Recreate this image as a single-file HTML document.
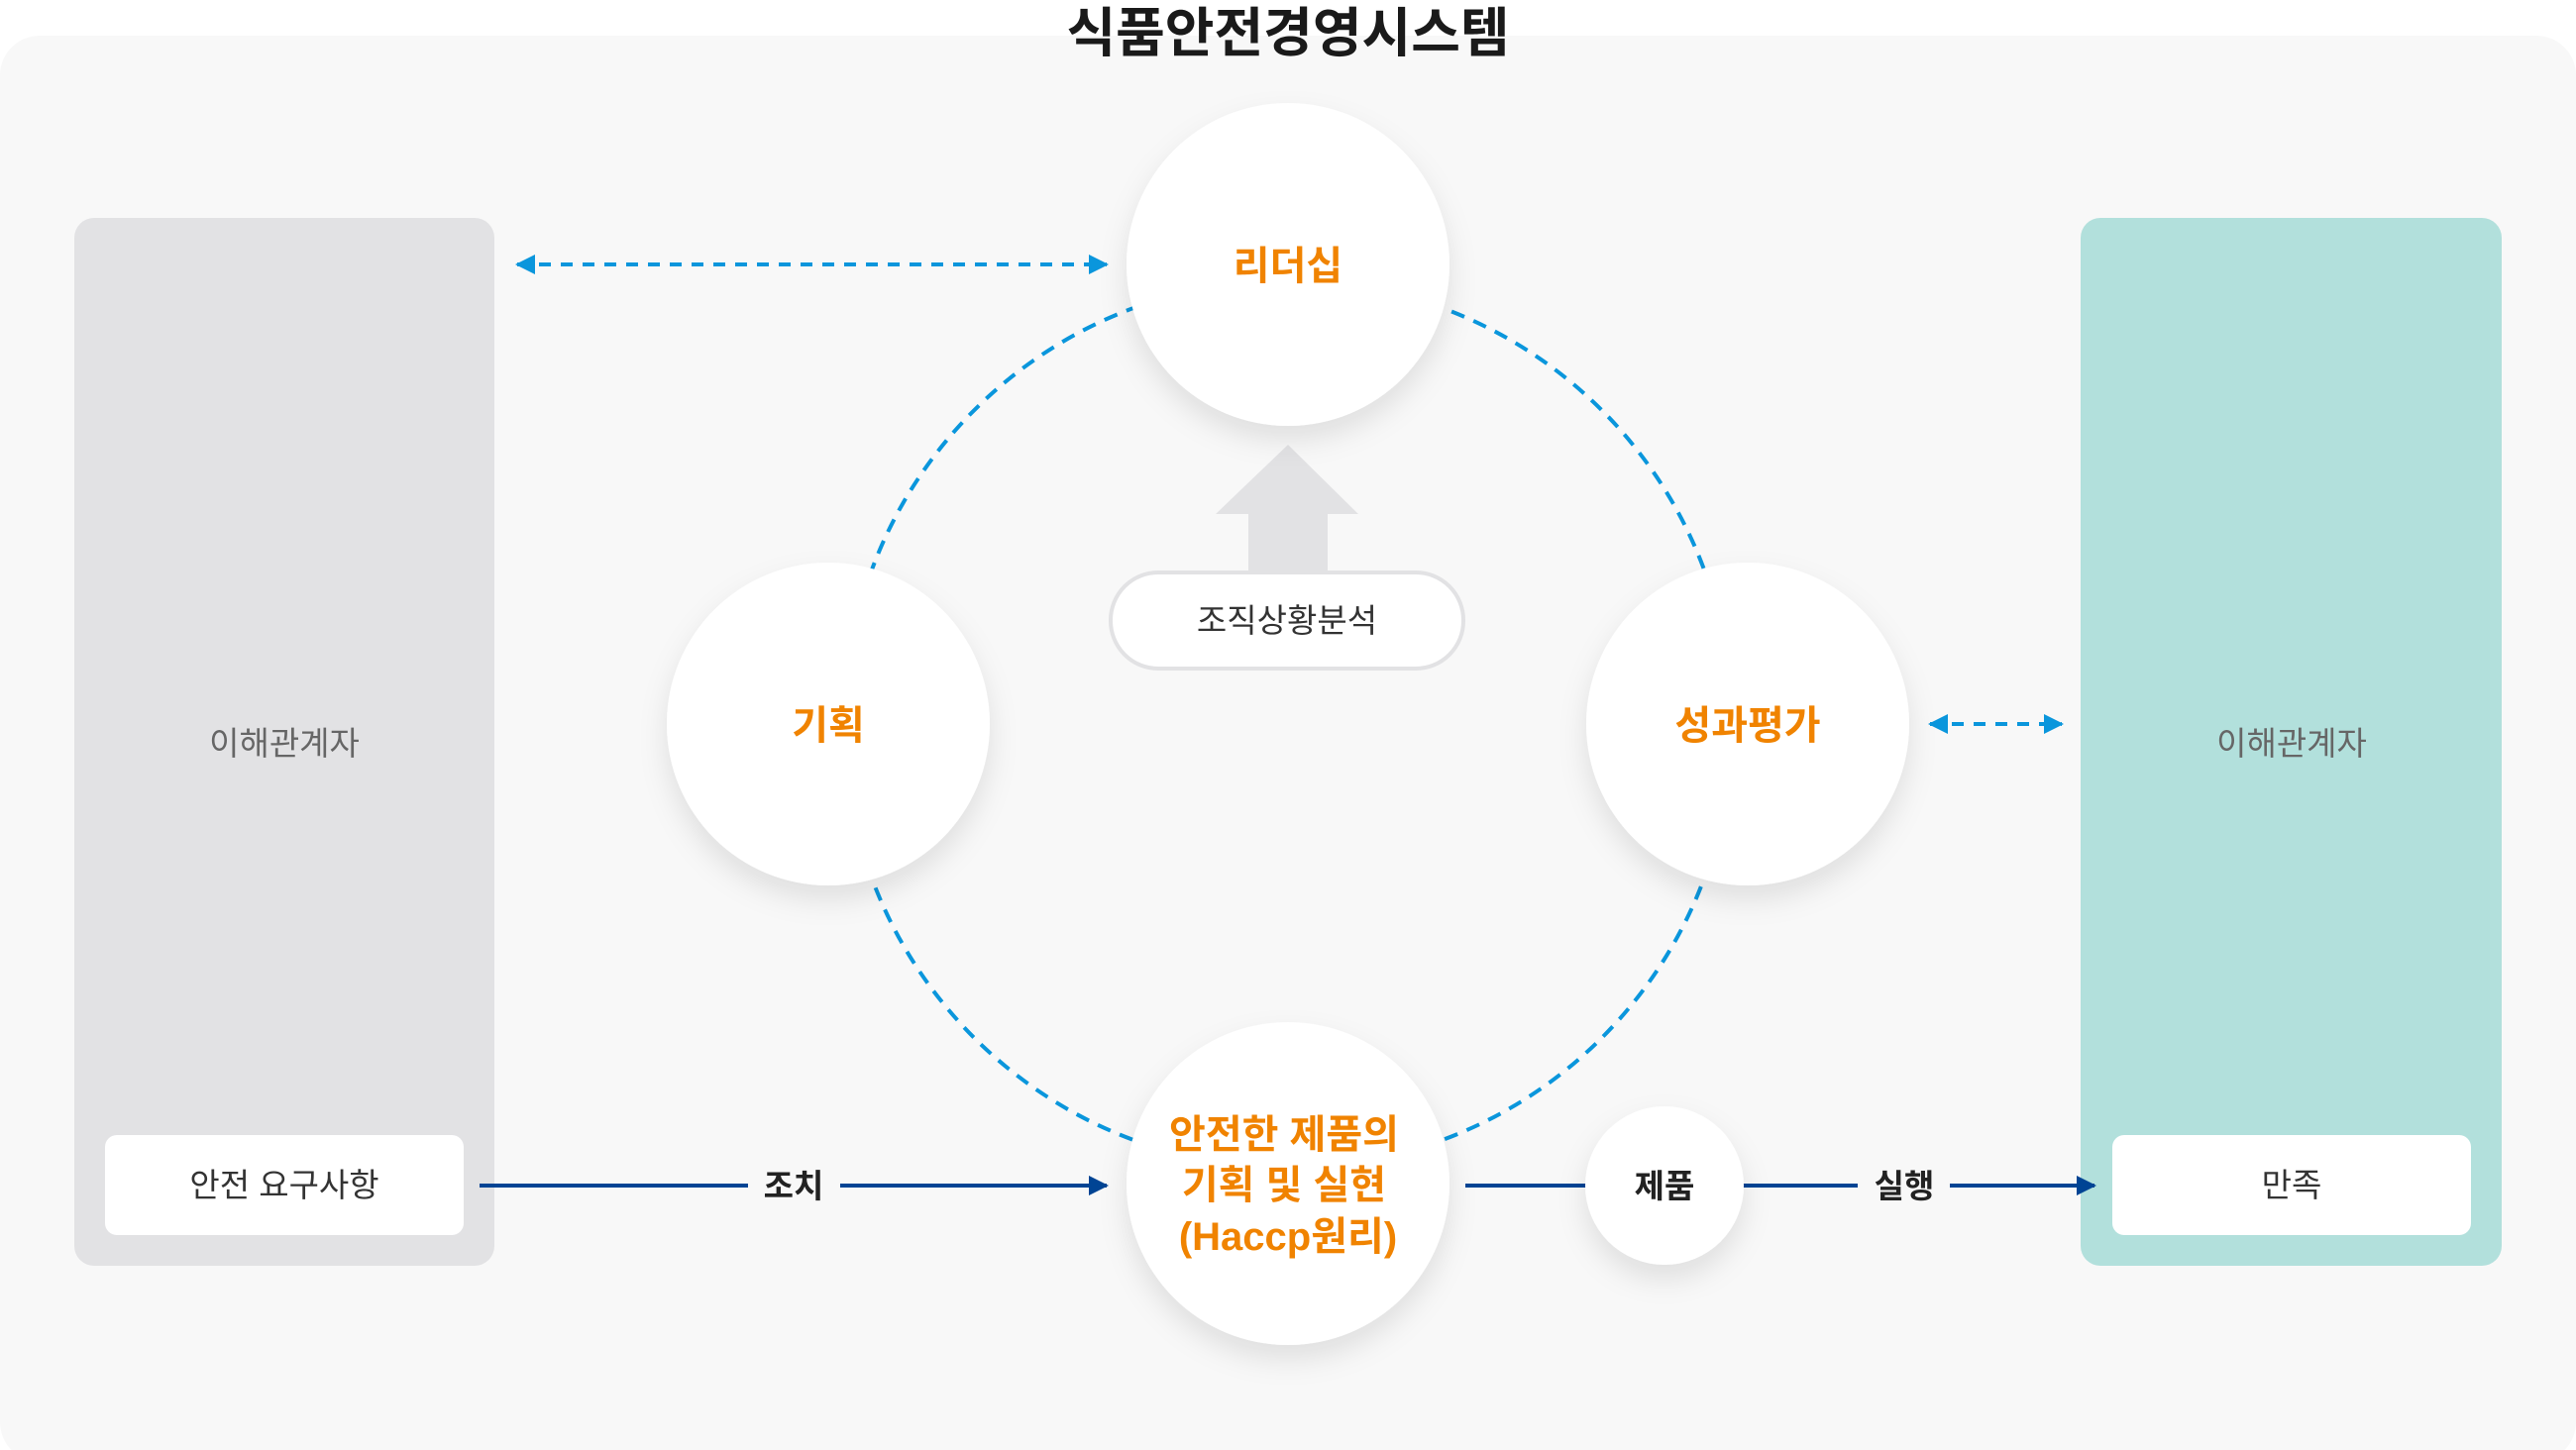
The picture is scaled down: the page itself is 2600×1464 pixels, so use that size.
<!DOCTYPE html>
<html><head><meta charset="utf-8"><style>
html,body{margin:0;padding:0;background:#fff}
svg{display:block}
text{font-family:"Liberation Sans","Noto Sans CJK KR",sans-serif}
</style></head><body>
<svg width="2600" height="1464" viewBox="0 0 2600 1464" xmlns="http://www.w3.org/2000/svg">
<defs>
<filter id="sh" x="-30%" y="-30%" width="160%" height="170%">
<feDropShadow dx="0" dy="14" stdDeviation="14" flood-color="#000" flood-opacity="0.10"/>
</filter>
<marker id="ab" viewBox="0 0 10 10" refX="9" refY="5" markerWidth="5" markerHeight="5" orient="auto-start-reverse"><path d="M0,0 L10,5 L0,10 z" fill="#0a96dc"/></marker>
<marker id="an" viewBox="0 0 10 10" refX="9" refY="5" markerWidth="5" markerHeight="5" orient="auto"><path d="M0,0 L10,5 L0,10 z" fill="#004494"/></marker>
</defs>
<rect x="0" y="36" width="2600" height="1440" rx="40" fill="#f8f8f8"/>
<text x="1300" y="52" text-anchor="middle" font-size="54" font-weight="bold" fill="#1a1a1a">식품안전경영시스템</text>

<rect x="75" y="220" width="424" height="1058" rx="20" fill="#e2e2e4"/>
<rect x="2100" y="220" width="425" height="1058" rx="20" fill="#b2e0dc"/>
<text x="287" y="762" text-anchor="middle" font-size="33" fill="#666">이해관계자</text>
<text x="2313" y="762" text-anchor="middle" font-size="33" fill="#666">이해관계자</text>
<rect x="106" y="1146" width="362" height="101" rx="12" fill="#fff"/>
<text x="287" y="1208" text-anchor="middle" font-size="33" fill="#333">안전 요구사항</text>
<rect x="2132" y="1146" width="362" height="101" rx="12" fill="#fff"/>
<text x="2313" y="1208" text-anchor="middle" font-size="33" fill="#333">만족</text>

<circle cx="1300" cy="731" r="448" fill="none" stroke="#0a96dc" stroke-width="4" stroke-dasharray="14 10"/>

<line x1="522" y1="267" x2="1117" y2="267" stroke="#0a96dc" stroke-width="4" stroke-dasharray="12 10" marker-start="url(#ab)" marker-end="url(#ab)"/>
<line x1="1948" y1="731" x2="2081" y2="731" stroke="#0a96dc" stroke-width="4" stroke-dasharray="12 10" marker-start="url(#ab)" marker-end="url(#ab)"/>

<polygon points="1300,449 1371,519 1340,519 1340,580 1260,580 1260,519 1227,519" fill="#e2e2e4"/>
<rect x="1121" y="578" width="356" height="97" rx="48" fill="#fff" stroke="#e2e2e4" stroke-width="4"/>
<text x="1299" y="638" text-anchor="middle" font-size="33" fill="#333">조직상황분석</text>

<line x1="484" y1="1197" x2="755" y2="1197" stroke="#004494" stroke-width="4"/>
<line x1="848" y1="1197" x2="1117" y2="1197" stroke="#004494" stroke-width="4" marker-end="url(#an)"/>
<text x="801" y="1209" text-anchor="middle" font-size="33" font-weight="bold" fill="#222">조치</text>
<line x1="1479" y1="1197" x2="1605" y2="1197" stroke="#004494" stroke-width="4"/>
<line x1="1755" y1="1197" x2="1875" y2="1197" stroke="#004494" stroke-width="4"/>
<line x1="1968" y1="1197" x2="2114" y2="1197" stroke="#004494" stroke-width="4" marker-end="url(#an)"/>
<text x="1922" y="1209" text-anchor="middle" font-size="33" font-weight="bold" fill="#222">실행</text>

<g filter="url(#sh)" fill="#fff">
<circle cx="1300" cy="267" r="163"/>
<circle cx="836" cy="731" r="163"/>
<circle cx="1764" cy="731" r="163"/>
<circle cx="1300" cy="1195" r="163"/>
<circle cx="1680" cy="1197" r="80"/>
</g>
<g font-weight="bold" fill="#f08300" text-anchor="middle">
<text x="1300" y="282" font-size="40">리더십</text>
<text x="836" y="746" font-size="40">기획</text>
<text x="1764" y="746" font-size="40">성과평가</text>
<text x="1296" y="1159" font-size="40">안전한 제품의</text>
<text x="1296" y="1210" font-size="40">기획 및 실현</text>
<text x="1300" y="1262" font-size="40">(Haccp원리)</text>
</g>
<text x="1680" y="1209" text-anchor="middle" font-size="33" font-weight="bold" fill="#222">제품</text>
</svg>
</body></html>
